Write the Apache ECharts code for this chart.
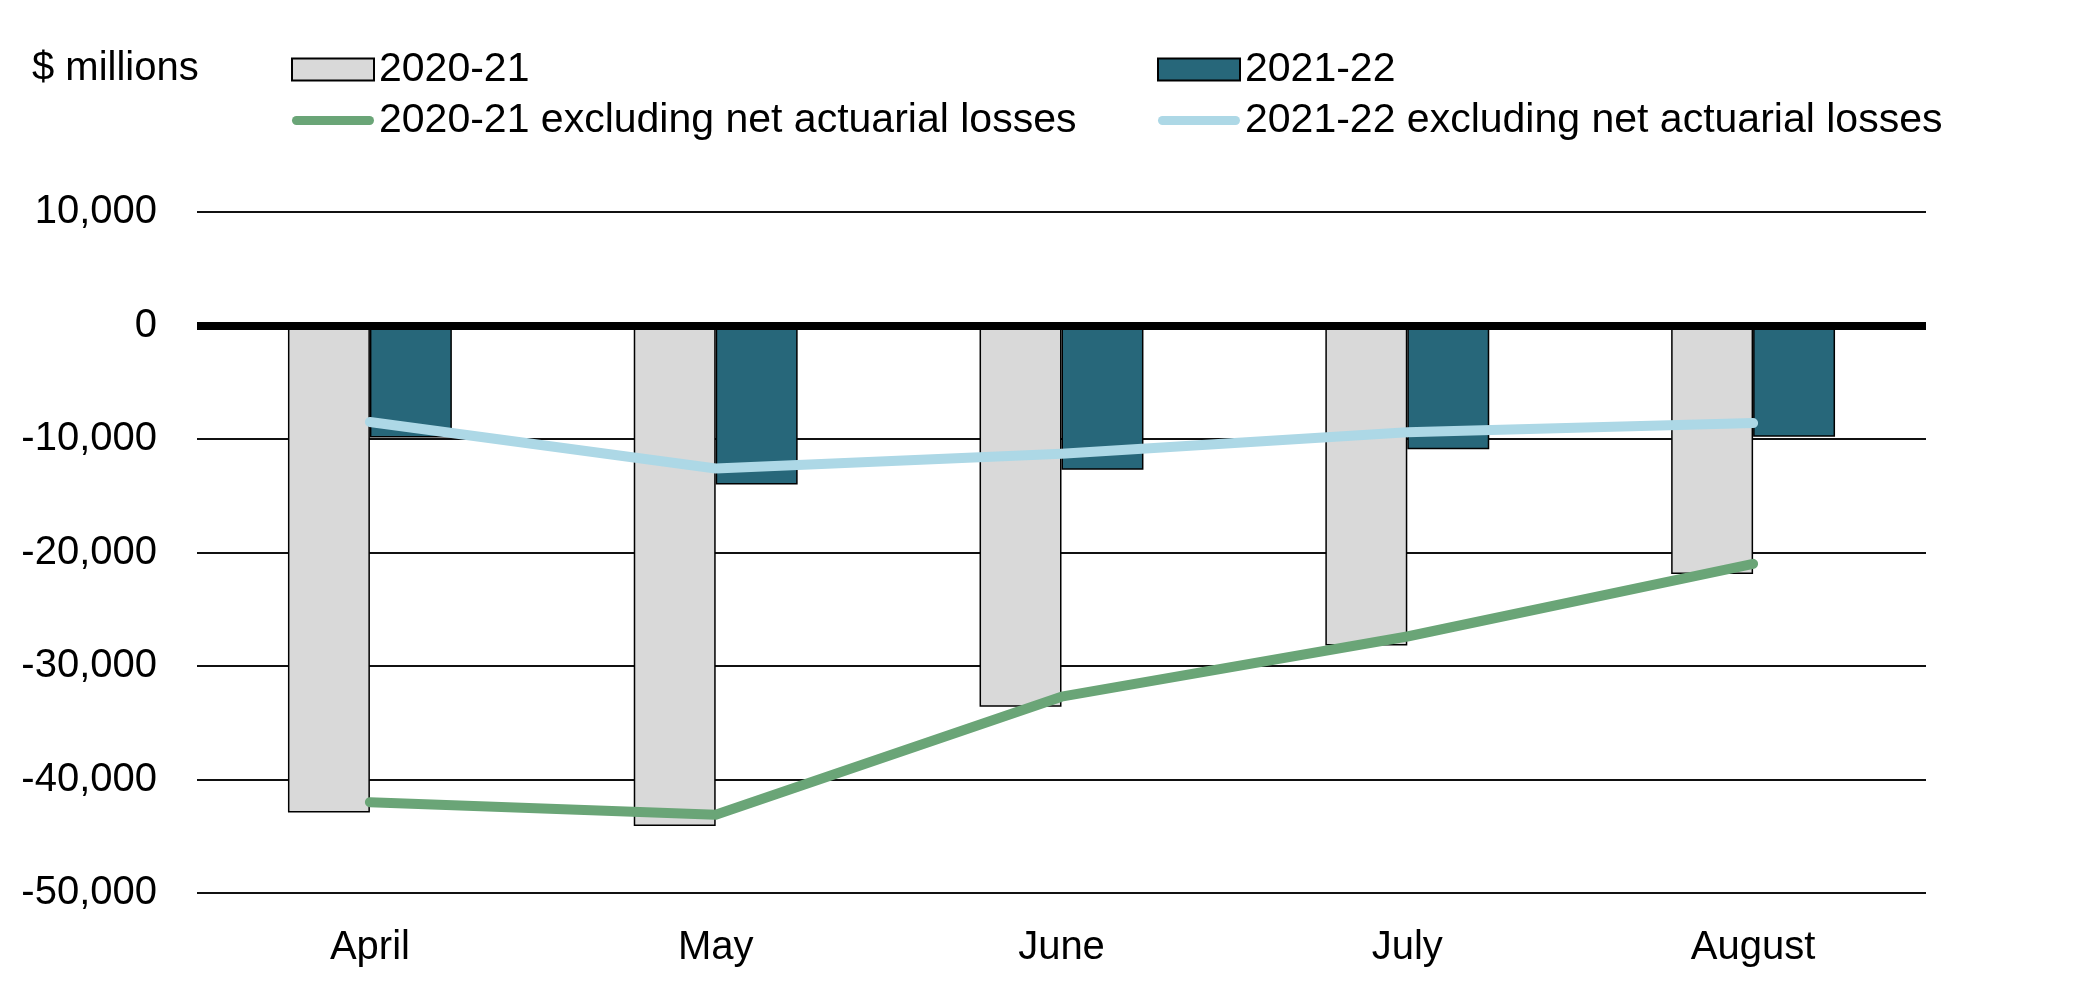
<!DOCTYPE html>
<html>
<head>
<meta charset="utf-8">
<script src="https://cdn.jsdelivr.net/npm/echarts@6/dist/echarts.min.js"></script>
<style>
html,body{margin:0;padding:0;background:#fff;}
#chart{width:2081px;height:985px;}
</style>
</head>
<body>
<div id="chart"></div>
<script>
const categories = ['April', 'May', 'June', 'July', 'August'];
const seriesNames = ['2020-21', '2021-22', '2020-21 excluding net actuarial losses', '2021-22 excluding net actuarial losses'];
const bars2020 = [-42900, -44100, -33600, -28200, -21900];
const bars2021 = [-9860, -14000, -12700, -10900, -9800];
const excl2020 = [-42000, -43100, -32700, -27400, -21000];
const excl2021 = [-8500, -12600, -11300, -9400, -8600];
const yMin = -50000, yMax = 10000, yStep = 10000;
const unitLabel = '$ millions';

const FONT = '"Liberation Sans", Arial, sans-serif';
const C_BAR1 = '#d9d9d9', C_BAR2 = '#27677a', C_GREEN = '#6aa577', C_BLUE = '#add8e6';
const LINE_ICON = 'path://M4.5,0 L77.5,0 A4.5,4.5 0 0 1 77.5,9 L4.5,9 A4.5,4.5 0 0 1 4.5,0 Z';

const chart = echarts.init(document.getElementById('chart'));
const legendBase = {
  orient: 'vertical', top: 44, itemGap: 10, itemWidth: 82, itemHeight: 22,
  textStyle: { fontSize: 41, color: '#000', fontFamily: FONT, lineHeight: 40, padding: [0, 0, 0, 0] },
  selectedMode: false
};
chart.setOption({
  animation: false,
  backgroundColor: '#fff',
  textStyle: { fontFamily: FONT },
  title: {
    text: unitLabel, left: 27, top: 44,
    textStyle: { fontSize: 40, fontWeight: 'normal', color: '#000', fontFamily: FONT }
  },
  legend: [
    Object.assign({}, legendBase, { left: 286, data: [
      { name: seriesNames[0], icon: 'rect', itemStyle: { color: C_BAR1, borderColor: '#000', borderWidth: 2 } },
      { name: seriesNames[2], icon: LINE_ICON, itemStyle: { color: C_GREEN, borderWidth: 0 } }
    ] }),
    Object.assign({}, legendBase, { left: 1152, data: [
      { name: seriesNames[1], icon: 'rect', itemStyle: { color: C_BAR2, borderColor: '#000', borderWidth: 2 } },
      { name: seriesNames[3], icon: LINE_ICON, itemStyle: { color: C_BLUE, borderWidth: 0 } }
    ] })
  ],
  grid: { left: 197, right: 155, top: 212, bottom: 92, containLabel: false },
  xAxis: {
    type: 'category', data: categories,
    axisLine: { show: false }, axisTick: { show: false },
    axisLabel: { fontSize: 40, color: '#000', fontFamily: FONT, margin: 35 }
  },
  yAxis: {
    type: 'value', min: yMin, max: yMax, interval: yStep,
    axisLine: { show: false }, axisTick: { show: false },
    axisLabel: { fontSize: 40, color: '#000', fontFamily: FONT, margin: 40,
      formatter: v => v.toLocaleString('en-US') },
    splitLine: { lineStyle: { color: '#111', width: 2 } }
  },
  series: [
    { name: seriesNames[0], type: 'bar', data: bars2020, barGap: '0%', barCategoryGap: '52.6%',
      itemStyle: { color: C_BAR1, borderColor: '#000', borderWidth: 1.5 } },
    { name: seriesNames[1], type: 'bar', data: bars2021,
      itemStyle: { color: C_BAR2, borderColor: '#000', borderWidth: 1.5 },
      markLine: { silent: true, symbol: 'none', label: { show: false },
        lineStyle: { color: '#000', width: 8, type: 'solid' }, data: [{ yAxis: 0 }] } },
    { name: seriesNames[2], type: 'line', data: excl2020, symbol: 'none', z: 5,
      lineStyle: { color: C_GREEN, width: 10, cap: 'round', join: 'round' }, itemStyle: { color: C_GREEN } },
    { name: seriesNames[3], type: 'line', data: excl2021, symbol: 'none', z: 5,
      lineStyle: { color: C_BLUE, width: 10, cap: 'round', join: 'round' }, itemStyle: { color: C_BLUE } }
  ]
});
</script>
</body>
</html>
